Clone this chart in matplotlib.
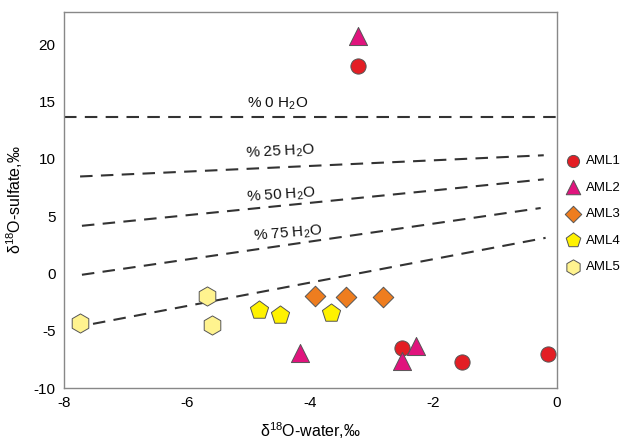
import matplotlib
matplotlib.use("Agg")
import matplotlib.pyplot as plt

plt.rcParams['font.family'] = ['Liberation Sans', 'DejaVu Sans']
plt.rcParams['mathtext.fontset'] = 'custom'
plt.rcParams['mathtext.rm'] = 'Liberation Sans'
plt.rcParams['mathtext.default'] = 'regular'
plt.rcParams['axes.unicode_minus'] = False

# sample data (d18O-water, d18O-sulfate)
aml1_x = [-3.22, -2.52, -1.53, -0.14]
aml1_y = [18.1, -6.5, -7.7, -7.05]
aml2_x = [-3.22, -4.17, -2.28, -2.52]
aml2_y = [20.7, -6.9, -6.3, -7.6]
aml3_x = [-3.93, -3.42, -2.82]
aml3_y = [-1.95, -2.05, -2.05]
aml4_x = [-4.83, -4.50, -3.67]
aml4_y = [-3.2, -3.6, -3.45]
aml5_x = [-7.74, -5.68, -5.59]
aml5_y = [-4.35, -1.95, -4.5]

# mixing lines: (x start, x end, y start, y end)
mix_labels = ['% 0 H$_2$O', '% 25 H$_2$O', '% 50 H$_2$O', '% 75 H$_2$O', None]
mix_x0 = [-8.0, -7.74, -7.71, -7.71, -7.53]
mix_x1 = [0.0, -0.21, -0.21, -0.26, -0.18]
mix_y0 = [13.65, 8.45, 4.15, -0.12, -4.4]
mix_y1 = [13.65, 10.3, 8.2, 5.7, 3.1]
label_x = [-4.54, -4.49, -4.47, -4.36]
label_y = [14.75, 10.6, 6.8, 3.45]
label_rot = [0, 3, 4, 5]

fig = plt.figure(figsize=(6.22, 4.41), dpi=100)
ax = fig.add_axes([0.103, 0.12, 0.792, 0.853])

for i in range(len(mix_x0)):
    ax.plot([mix_x0[i], mix_x1[i]], [mix_y0[i], mix_y1[i]], color='#333333',
            lw=1.5, dashes=(6, 4), zorder=1)
for i in range(len(label_x)):
    ax.text(label_x[i], label_y[i], mix_labels[i], ha='center', va='center',
            fontsize=11, rotation=label_rot[i], color='#111111')

edge = '#555555'
ax.scatter(aml1_x, aml1_y, marker='o', s=120, c='#e31e24', edgecolors=edge, linewidths=0.7, label='AML1', zorder=3)
ax.scatter(aml2_x, aml2_y, marker='^', s=170, c='#e0147d', edgecolors=edge, linewidths=0.7, label='AML2', zorder=3)
ax.scatter(aml3_x, aml3_y, marker='D', s=110, c='#ee7d1f', edgecolors=edge, linewidths=0.7, label='AML3', zorder=3)
ax.scatter(aml4_x, aml4_y, marker='p', s=190, c='#fff200', edgecolors=edge, linewidths=0.7, label='AML4', zorder=3)
ax.scatter(aml5_x, aml5_y, marker='h', s=190, c='#fff38f', edgecolors=edge, linewidths=0.7, label='AML5', zorder=3)

ax.set_xlim(-8, 0)
ax.set_ylim(-10, 22.8)
ax.set_xticks([-8, -6, -4, -2, 0])
ax.set_yticks([-10, -5, 0, 5, 10, 15, 20])
ax.tick_params(length=0, labelsize=11, pad=6)
for s in ax.spines.values():
    s.set_color('#888888')
    s.set_linewidth(1.0)

ax.set_xlabel('δ$^{18}$O-water,‰', fontsize=11.5, labelpad=7)
ax.set_ylabel('δ$^{18}$O-sulfate,‰', fontsize=11.5, labelpad=6)

fig.legend(loc='upper left', bbox_to_anchor=(0.9, 0.66), frameon=False,
           fontsize=9.5, handletextpad=0.4, labelspacing=1.08, borderaxespad=0,
           handlelength=1.2, markerscale=0.8)

fig.savefig('out.png', dpi=100)
